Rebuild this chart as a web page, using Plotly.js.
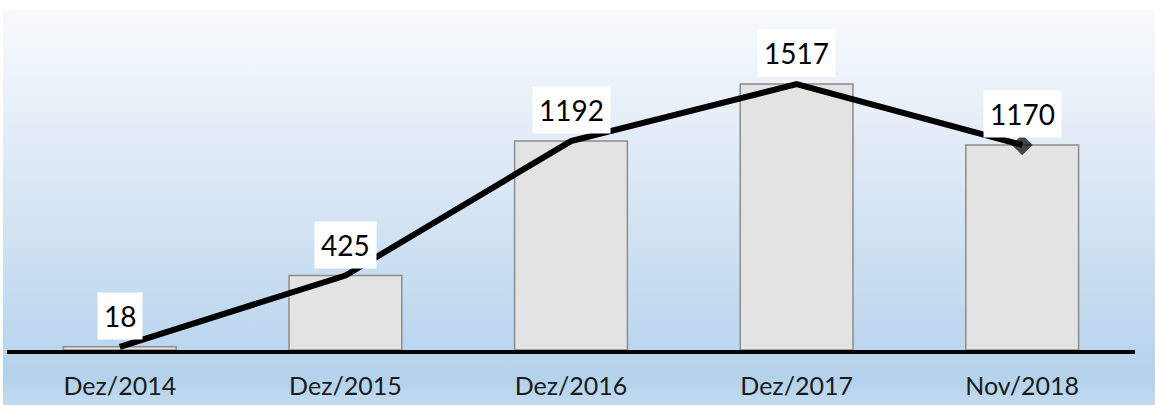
<!DOCTYPE html>
<html>
<head>
<meta charset="utf-8">
<script src="https://cdn.plot.ly/plotly-3.0.1.min.js"></script>
<style>
  html, body { margin: 0; padding: 0; background: #ffffff; }
  #wrap { position: relative; width: 1155px; height: 405px; overflow: hidden; }
  #bg { position: absolute; left: 3px; top: 10px; width: 1152px; height: 395px;
        background: linear-gradient(to bottom, #f7fafd 0px, #dfeaf6 150px, #b4d2ec 370px, #c3dbf0 395px); }
  #chart { position: absolute; left: 0; top: 0; width: 1155px; height: 405px; }
</style>
</head>
<body>
<div id="wrap"><div id="bg"></div><div id="chart"></div></div>
<script>
const categories = ["Dez/2014", "Dez/2015", "Dez/2016", "Dez/2017", "Nov/2018"];
const values = [18, 425, 1192, 1517, 1170];
const labelTexts = ["18", "425", "1192", "1517", "1170"];

const font = "Lato, 'Open Sans', sans-serif";

const bars = {
  type: "bar",
  x: categories,
  y: values,
  marker: { color: "#e3e3e3", line: { color: "#8c8c8c", width: 1.5 } },
  hoverinfo: "skip",
  showlegend: false
};

const line = {
  type: "scatter",
  mode: "lines+markers",
  x: categories,
  y: values,
  line: { color: "#000000", width: 6 },
  marker: { color: "#000000", symbol: "diamond", line: { width: 0 },
            size: values.map((v, i) => i === values.length - 1 ? 16 : 0) },
  hoverinfo: "skip",
  showlegend: false,
  cliponaxis: false
};

const annotations = categories.map((c, i) => ({
  x: c, y: values[i], xref: "x", yref: "y",
  text: labelTexts[i], showarrow: false,
  yanchor: "middle", yshift: 31,
  bgcolor: "#ffffff", borderpad: 6,
  font: { family: font, size: 28, color: "#000000" }
}));

const layout = {
  width: 1155, height: 405,
  margin: { l: 7, r: 20, t: 52, b: 55 },
  paper_bgcolor: "rgba(0,0,0,0)",
  plot_bgcolor: "rgba(0,0,0,0)",
  bargap: 0.5,
  xaxis: {
    type: "category",
    showline: true, linecolor: "#000000", linewidth: 4,
    showgrid: false, ticks: "",
    tickfont: { family: font, size: 25, color: "#1a1a1a" },
    ticklabelstandoff: 11
  },
  yaxis: {
    range: [0, 1700], visible: false, showgrid: false, zeroline: false
  },
  annotations: annotations
};

Plotly.newPlot("chart", [bars, line], layout, { staticPlot: true, displayModeBar: false });
</script>
</body>
</html>
